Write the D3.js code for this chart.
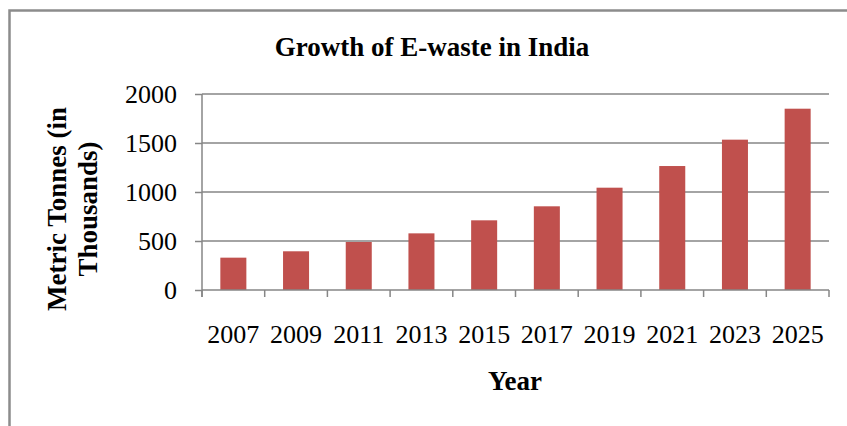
<!DOCTYPE html>
<html>
<head>
<meta charset="utf-8">
<script src="https://cdn.jsdelivr.net/npm/d3@7"></script>
<style>
  html, body { margin: 0; padding: 0; background: #fff; }
  svg { display: block; }
</style>
</head>
<body>
<div id="chart"></div>
<script>
// Data
const years = ["2007", "2009", "2011", "2013", "2015", "2017", "2019", "2021", "2023", "2025"];
const ewaste = [330, 395, 490, 578, 711, 854, 1044, 1265, 1534, 1850];
const yTicks = [0, 500, 1000, 1500, 2000];

const W = 847, H = 426;
const plot = { left: 202, right: 829, top: 94, bottom: 290 };

const colors = {
    bar: '#c0504d',
    grid: '#868686',
    frame: '#8c8c8c',
    text: '#000000'
};
const serif = "'Liberation Serif', 'Times New Roman', serif";

const svg = d3.select("#chart").append("svg")
    .attr("width", W)
    .attr("height", H);

// Outer frame (runs off the right and bottom edge in the reference)
svg.append("rect")
    .attr("x", 9.5)
    .attr("y", 10.5)
    .attr("width", W + 20)
    .attr("height", H + 20)
    .attr("fill", "none")
    .attr("stroke", colors.frame)
    .attr("stroke-width", 2.5);

// Scales
const x = d3.scaleBand()
    .domain(years)
    .range([plot.left, plot.right])
    .paddingInner(0.585)
    .paddingOuter(0.2925);

const y = d3.scaleLinear()
    .domain([0, 2000])
    .range([plot.bottom, plot.top]);

// Horizontal gridlines
svg.append("g")
    .selectAll("line")
    .data(yTicks.filter(d => d > 0))
    .join("line")
    .attr("x1", plot.left)
    .attr("x2", plot.right)
    .attr("y1", d => y(d))
    .attr("y2", d => y(d))
    .attr("stroke", colors.grid)
    .attr("stroke-width", 1.5);

// Bars
svg.append("g")
    .selectAll("rect")
    .data(years.map((yr, i) => ({ year: yr, value: ewaste[i] })))
    .join("rect")
    .attr("x", d => x(d.year))
    .attr("y", d => y(d.value))
    .attr("width", x.bandwidth())
    .attr("height", d => y(0) - y(d.value))
    .attr("fill", colors.bar);

// Y axis (plain numbers, no thousands separator)
const yAxis = svg.append("g")
    .attr("transform", `translate(${plot.left},0)`)
    .call(d3.axisLeft(y).tickValues(yTicks).tickFormat(d3.format("d")).tickSize(7).tickPadding(18))
    .attr("font-family", serif)
    .attr("font-size", "26px");
yAxis.selectAll("line").attr("stroke", colors.grid).attr("stroke-width", 1.5);
yAxis.select(".domain")
    .attr("d", `M0,${plot.top}V${plot.bottom + 7}`)
    .attr("stroke", colors.grid)
    .attr("stroke-width", 1.5);
yAxis.selectAll("text").attr("fill", colors.text).attr("dy", "0.32em");

// X axis: ticks sit on the band boundaries, labels centred under the bars
const xAxis = svg.append("g")
    .attr("transform", `translate(0,${plot.bottom})`);
xAxis.append("line")
    .attr("x1", plot.left)
    .attr("x2", plot.right)
    .attr("stroke", colors.grid)
    .attr("stroke-width", 1.5);
const bounds = years.map(yr => x(yr) - x.step() * x.paddingInner() / 2).concat([plot.right]);
xAxis.selectAll(".xtick")
    .data(bounds)
    .join("line")
    .attr("class", "xtick")
    .attr("x1", d => d)
    .attr("x2", d => d)
    .attr("y1", 0)
    .attr("y2", 7)
    .attr("stroke", colors.grid)
    .attr("stroke-width", 1.5);
xAxis.selectAll(".xlabel")
    .data(years)
    .join("text")
    .attr("class", "xlabel")
    .attr("x", d => x(d) + x.bandwidth() / 2)
    .attr("y", 53)
    .attr("text-anchor", "middle")
    .attr("font-family", serif)
    .attr("font-size", "26px")
    .attr("fill", colors.text)
    .text(d => d);

// Titles
svg.append("text")
    .attr("x", 432)
    .attr("y", 56)
    .attr("text-anchor", "middle")
    .attr("font-family", serif)
    .attr("font-size", "27px")
    .attr("font-weight", "bold")
    .text("Growth of E-waste in India");

svg.append("text")
    .attr("x", 515)
    .attr("y", 390)
    .attr("text-anchor", "middle")
    .attr("font-family", serif)
    .attr("font-size", "27px")
    .attr("font-weight", "bold")
    .text("Year");

const yTitle = svg.append("text")
    .attr("transform", "translate(66,209) rotate(-90)")
    .attr("text-anchor", "middle")
    .attr("font-family", serif)
    .attr("font-size", "27px")
    .attr("font-weight", "bold");
yTitle.append("tspan").attr("x", 0).attr("y", 0).text("Metric Tonnes (in");
yTitle.append("tspan").attr("x", 0).attr("y", 31).text("Thousands)");
</script>
</body>
</html>
